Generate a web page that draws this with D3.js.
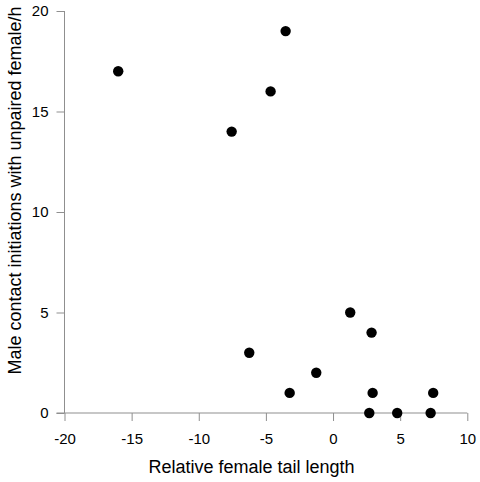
<!DOCTYPE html>
<html><head><meta charset="utf-8">
<script src="https://cdn.jsdelivr.net/npm/d3@7"></script>
<style>body{margin:0;background:#fff}svg{display:block}text{font-family:"Liberation Sans",Arial,sans-serif}</style>
</head><body>
<script>
const xValues = [-16.0, -3.53, -4.65, -7.55, 1.28, 2.87, -6.24, -1.25, -3.23, 2.95, 7.46, 2.70, 4.78, 7.27];
const yValues = [17, 19, 16, 14, 5, 4, 3, 2, 1, 1, 1, 0, 0, 0];
const xTicks = [-20, -15, -10, -5, 0, 5, 10];
const yTicks = [0, 5, 10, 15, 20];
const xTitle = "Relative female tail length";
const yTitle = "Male contact initiations with unpaired female/h";

const W = 480, H = 482;
const svg = d3.select("body").append("svg").attr("width", W).attr("height", H);
const x = d3.scaleLinear().domain([-20, 10]).range([64.5, 467.3]);
const y = d3.scaleLinear().domain([0, 20]).range([413, 11]);
const axisColor = "#8f8f8f";

const gx = svg.append("g").attr("transform", `translate(0,${y(0)})`)
  .call(d3.axisBottom(x).tickValues(xTicks).tickSize(8).tickPadding(12).tickFormat(d => String(d)));
const gy = svg.append("g").attr("transform", `translate(${x(-20)},0)`)
  .call(d3.axisLeft(y).tickValues(yTicks).tickSize(8).tickPadding(8).tickFormat(d => String(d)));
[gx, gy].forEach(g => {
  g.selectAll(".tick line").attr("stroke", axisColor);
  g.selectAll(".tick text").attr("fill", "#000").style("font-size", "15px").style("font-family", "'Liberation Sans', Arial, sans-serif");
});
gx.select(".domain").attr("stroke", axisColor).attr("d", `M${x(-20)-8},0H${x(10)}`);
gy.select(".domain").attr("stroke", axisColor).attr("d", `M0,${y(20)}V${y(0)}`);

svg.append("g").selectAll("circle").data(xValues.map((v, i) => [v, yValues[i]]))
  .join("circle").attr("cx", d => x(d[0])).attr("cy", d => y(d[1])).attr("r", 5.2).attr("fill", "#000");

svg.append("text").attr("x", 251.5).attr("y", 472.5).attr("text-anchor", "middle")
  .style("font-size", "18px").text(xTitle);
svg.append("text").attr("transform", `translate(21,190.5) rotate(-90)`).attr("text-anchor", "middle")
  .style("font-size", "18px").text(yTitle);
</script>
</body></html>
